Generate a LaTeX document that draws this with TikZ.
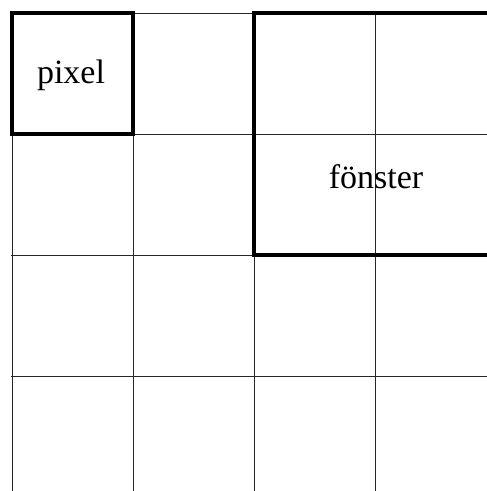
\documentclass[tikz,border=0pt]{standalone}
\usepackage{fontspec}
\setmainfont{Liberation Serif}
\begin{document}
\begin{tikzpicture}[x=1pt,y=-1pt,
  gridline/.style={line width=1pt,draw=black!85},
  thickbox/.style={line width=4.6pt,draw=black},
  lbl/.style={font=\fontsize{34}{40}\selectfont,inner sep=0pt,anchor=base}]
\useasboundingbox (0,0) rectangle (487,491);
\clip (0,0) rectangle (487,491);
\fill[white] (0,0) rectangle (487,491);
% grid
\foreach \x in {12,133,254,375} \draw[gridline] (\x,12) -- (\x,495);
\foreach \y in {13,134,255,376} \draw[gridline] (11,\y) -- (495,\y);
% thick boxes
\draw[thickbox] (12,13) rectangle (133,134);
\draw[thickbox] (254,13) rectangle (520,255);
% labels
\node[lbl] (pixel) at (71,83) {pixel};
\node[lbl] (fonster) at (376,188) {fönster};
\end{tikzpicture}
\end{document}
